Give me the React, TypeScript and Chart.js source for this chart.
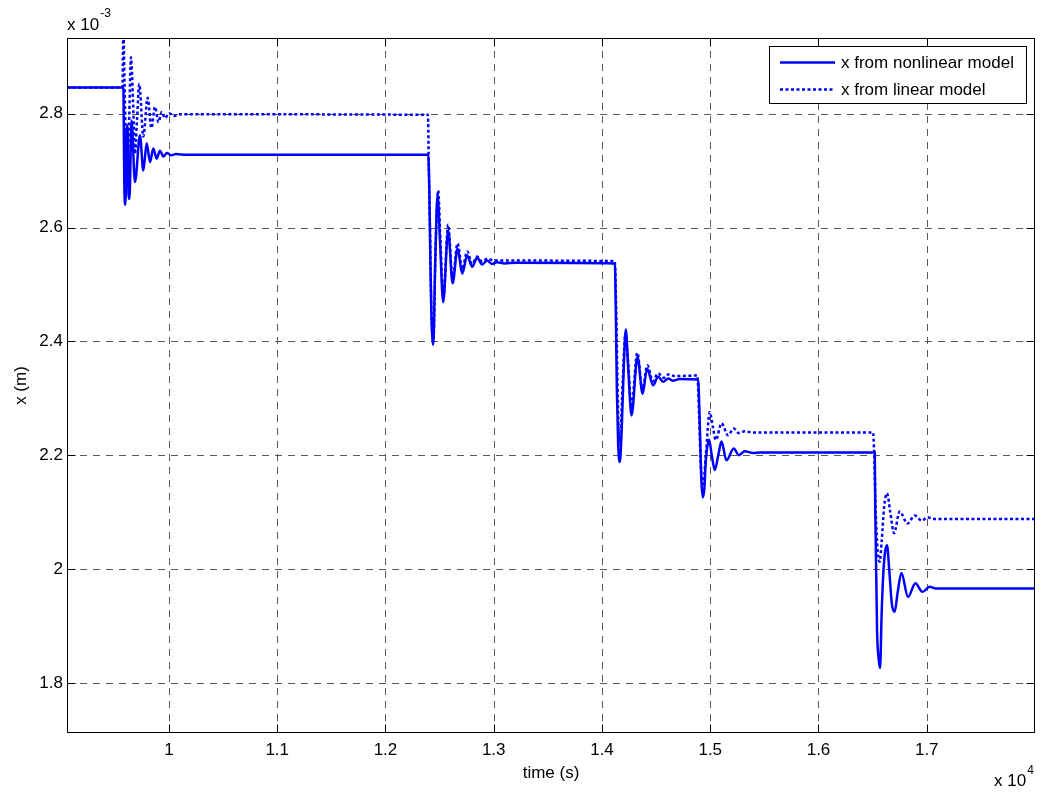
import React, { useEffect, useRef } from "react";
import { Chart, registerables } from "chart.js";

Chart.register(...registerables);

// ---- axis ranges and ticks (time in s, x in units of 1e-3 m) ----
const X_MIN = 9058;
const X_MAX = 18000;
const Y_MIN = 1.712;
const Y_MAX = 2.933;
const X_TICKS = [10000, 11000, 12000, 13000, 14000, 15000, 16000, 17000];
const X_TICK_LABELS = ["1", "1.1", "1.2", "1.3", "1.4", "1.5", "1.6", "1.7"];
const Y_TICKS = [1.8, 2.0, 2.2, 2.4, 2.6, 2.8];
const Y_TICK_LABELS = ["1.8", "2", "2.2", "2.4", "2.6", "2.8"];

const SERIES_LABELS = ["x from nonlinear model", "x from linear model"];

// ---- nonlinear model (solid) ----
const nonlinearTime = [
  9058, 9578, 9589, 9598, 9608, 9617, 9626, 9635, 9654, 9686, 9732, 9763, 9794, 9825, 9855, 9886, 9917, 9947, 9982, 10019, 10065, 10157,
  12395, 12404, 12415, 12424, 12441, 12461, 12481, 12503, 12533, 12579, 12620, 12666, 12709, 12755, 12801, 12847, 12893, 12939, 12983, 13029, 13100, 13200,
  14119, 14128, 14137, 14149, 14165, 14183, 14202, 14220, 14243, 14273, 14328, 14375, 14417, 14472, 14519, 14565, 14611, 14654, 14719,
  14888, 14904, 14917, 14931, 14945, 14959, 14989, 15014, 15042, 15074, 15104, 15150, 15217, 15264, 15319, 15396, 15458,
  16520, 16524, 16541, 16557, 16569, 16583, 16598, 16615, 16633, 16653, 16677, 16704, 16732, 16766, 16827, 16895, 16960, 17027, 17083, 18000,
];
const nonlinearX = [
  2.846, 2.846, 2.66, 2.64, 2.77, 2.78, 2.66, 2.65, 2.788, 2.68, 2.762, 2.7, 2.748, 2.715, 2.739, 2.721, 2.735, 2.725, 2.731, 2.727, 2.729, 2.728,
  2.728, 2.674, 2.54, 2.45, 2.394, 2.55, 2.657, 2.58, 2.469, 2.595, 2.502, 2.563, 2.519, 2.551, 2.531, 2.547, 2.535, 2.542, 2.536, 2.539, 2.537, 2.538,
  2.537, 2.449, 2.32, 2.221, 2.188, 2.25, 2.36, 2.421, 2.35, 2.27, 2.373, 2.308, 2.352, 2.323, 2.338, 2.329, 2.335, 2.331, 2.334,
  2.333, 2.25, 2.16, 2.126, 2.14, 2.19, 2.227, 2.2, 2.174, 2.2, 2.224, 2.191, 2.212, 2.2, 2.207, 2.204, 2.205,
  2.205, 2.109, 1.893, 1.84, 1.826, 1.92, 1.99, 2.03, 2.042, 2.0, 1.94, 1.925, 1.96, 1.993, 1.951, 1.975, 1.96, 1.969, 1.966, 1.966,
];

// ---- linear model (dotted) ----
const linearTime = [
  9058, 9571, 9578, 9589, 9603, 9617, 9631, 9649, 9668, 9686, 9705, 9726, 9763, 9803, 9838, 9871, 9903, 9933, 9963, 10000, 10046, 10102,
  12392, 12401, 12411, 12424, 12443, 12461, 12487, 12507, 12535, 12579, 12620, 12666, 12709, 12755, 12801, 12847, 12893, 12939, 13010,
  14117, 14132, 14146, 14160, 14174, 14192, 14216, 14243, 14271, 14327, 14373, 14419, 14470, 14519, 14567, 14613, 14673,
  14880, 14899, 14913, 14936, 14959, 14996, 15024, 15051, 15104, 15165, 15217, 15264, 15319, 15384,
  16504, 16515, 16529, 16547, 16566, 16584, 16607, 16633, 16663, 16698, 16750, 16822, 16889, 16956, 17006, 17058, 18000,
];
const linearX = [
  2.846, 2.846, 2.95, 2.86, 2.74, 2.7, 2.78, 2.899, 2.82, 2.73, 2.79, 2.852, 2.76, 2.828, 2.775, 2.812, 2.785, 2.803, 2.792, 2.801, 2.796, 2.799,
  2.798, 2.7, 2.6, 2.45, 2.4, 2.55, 2.665, 2.58, 2.478, 2.605, 2.51, 2.572, 2.527, 2.558, 2.536, 2.549, 2.54, 2.545, 2.542,
  2.541, 2.45, 2.3, 2.22, 2.25, 2.33, 2.41, 2.36, 2.285, 2.38, 2.315, 2.358, 2.33, 2.344, 2.336, 2.342, 2.339,
  2.34, 2.26, 2.18, 2.15, 2.2, 2.276, 2.25, 2.227, 2.256, 2.235, 2.247, 2.239, 2.242, 2.24,
  2.24, 2.2, 2.1, 2.03, 2.013, 2.05, 2.11, 2.133, 2.1, 2.063, 2.101, 2.08, 2.094, 2.085, 2.091, 2.088, 2.088,
];

const FONT = "'Liberation Sans', Arial, Helvetica, sans-serif";
const BLUE = "#0000ff";
const DOT_DASH = [3, 2.5];

const matlabPlugin = {
  id: "matlabDecor",
  beforeDatasetsDraw(chart: any) {
    const { ctx, chartArea: a, scales } = chart;
    const x = scales.x;
    const y = scales.y;
    ctx.save();
    ctx.strokeStyle = "#5a5a5a";
    ctx.lineWidth = 1;
    ctx.setLineDash([7, 6]);
    ctx.beginPath();
    X_TICKS.forEach((v) => {
      const px = Math.round(x.getPixelForValue(v)) + 0.5;
      ctx.moveTo(px, a.top);
      ctx.lineTo(px, a.bottom);
    });
    Y_TICKS.forEach((v) => {
      const py = Math.round(y.getPixelForValue(v)) + 0.5;
      ctx.moveTo(a.left, py);
      ctx.lineTo(a.right, py);
    });
    ctx.stroke();
    ctx.restore();
  },
  afterDatasetsDraw(chart: any) {
    const { ctx, chartArea: a, scales } = chart;
    const x = scales.x;
    const y = scales.y;
    ctx.save();
    // box
    ctx.setLineDash([]);
    ctx.strokeStyle = "#000";
    ctx.lineWidth = 1;
    const L = Math.round(a.left) + 0.5;
    const R = Math.round(a.right) - 0.5;
    const T = Math.round(a.top) + 0.5;
    const B = Math.round(a.bottom) - 0.5;
    ctx.strokeRect(L, T, R - L, B - T);
    // inward tick marks
    const TL = 8;
    ctx.beginPath();
    X_TICKS.forEach((v) => {
      const px = Math.round(x.getPixelForValue(v)) + 0.5;
      ctx.moveTo(px, B);
      ctx.lineTo(px, B - TL);
      ctx.moveTo(px, T);
      ctx.lineTo(px, T + TL);
    });
    Y_TICKS.forEach((v) => {
      const py = Math.round(y.getPixelForValue(v)) + 0.5;
      ctx.moveTo(L, py);
      ctx.lineTo(L + TL, py);
      ctx.moveTo(R, py);
      ctx.lineTo(R - TL, py);
    });
    ctx.stroke();

    // legend
    const lgL = Math.round(a.right) - 266;
    const lgT = Math.round(a.top) + 8;
    const lgW = 257;
    const lgH = 57;
    ctx.fillStyle = "#fff";
    ctx.fillRect(lgL, lgT, lgW, lgH);
    ctx.strokeStyle = "#000";
    ctx.lineWidth = 1;
    ctx.strokeRect(lgL + 0.5, lgT + 0.5, lgW, lgH);
    const rows = [lgT + 16.5, lgT + 43.5];
    chart.data.datasets.forEach((ds: any, i: number) => {
      const ry = rows[i];
      ctx.save();
      ctx.strokeStyle = ds.borderColor;
      ctx.lineWidth = ds.borderWidth;
      ctx.setLineDash(ds.borderDash || []);
      ctx.beginPath();
      ctx.moveTo(lgL + 11, ry);
      ctx.lineTo(lgL + 66, ry);
      ctx.stroke();
      ctx.restore();
      ctx.fillStyle = "#000";
      ctx.font = `17px ${FONT}`;
      ctx.textAlign = "left";
      ctx.textBaseline = "middle";
      ctx.fillText(ds.label, lgL + 72, ry + 0.5);
    });

    // axis titles
    ctx.fillStyle = "#000";
    ctx.font = `17px ${FONT}`;
    ctx.textAlign = "center";
    ctx.textBaseline = "middle";
    ctx.fillText("time (s)", (a.left + a.right) / 2, 773);
    ctx.save();
    ctx.translate(21, (a.top + a.bottom) / 2);
    ctx.rotate(-Math.PI / 2);
    ctx.fillText("x (m)", 0, 0);
    ctx.restore();

    // exponent labels
    ctx.textAlign = "left";
    ctx.textBaseline = "alphabetic";
    ctx.font = `17px ${FONT}`;
    ctx.fillText("x 10", a.left, 29.5);
    const w1 = ctx.measureText("x 10").width;
    ctx.font = `12px ${FONT}`;
    ctx.fillText("-3", a.left + w1 + 1, 17);

    ctx.font = `17px ${FONT}`;
    ctx.fillText("x 10", 994, 786);
    const w2 = ctx.measureText("x 10").width;
    ctx.font = `12px ${FONT}`;
    ctx.fillText("4", 994 + w2 + 1, 774);
    ctx.restore();
  },
};

export default function App() {
  const ref = useRef<HTMLCanvasElement | null>(null);

  useEffect(() => {
    const canvas = ref.current;
    if (!canvas) return;
    const chart = new Chart(canvas, {
      type: "line",
      data: {
        datasets: [
          {
            label: SERIES_LABELS[0],
            data: nonlinearTime.map((t, i) => ({ x: t, y: nonlinearX[i] })),
            borderColor: BLUE,
            borderWidth: 2.5,
            pointRadius: 0,
            cubicInterpolationMode: "monotone",
            fill: false,
            order: 1,
          },
          {
            label: SERIES_LABELS[1],
            data: linearTime.map((t, i) => ({ x: t, y: linearX[i] })),
            borderColor: BLUE,
            borderWidth: 2.5,
            borderDash: DOT_DASH,
            pointRadius: 0,
            cubicInterpolationMode: "monotone",
            fill: false,
            order: 0,
          },
        ],
      },
      options: {
        responsive: false,
        animation: false,
        devicePixelRatio: 1,
        events: [],
        layout: { padding: { left: 0, top: 38, right: 7, bottom: 0 } },
        plugins: { legend: { display: false }, tooltip: { enabled: false } },
        scales: {
          x: {
            type: "linear",
            min: X_MIN,
            max: X_MAX,
            grid: { display: false, drawTicks: false },
            border: { display: false },
            afterBuildTicks: (s: any) => {
              s.ticks = X_TICKS.map((v) => ({ value: v }));
            },
            afterFit: (s: any) => {
              s.height = 63;
            },
            ticks: {
              autoSkip: false,
              maxRotation: 0,
              minRotation: 0,
              padding: 7,
              color: "#000",
              font: { family: FONT, size: 17 },
              callback: (v: any) => X_TICK_LABELS[X_TICKS.indexOf(Number(v))] ?? "",
            },
          },
          y: {
            type: "linear",
            min: Y_MIN,
            max: Y_MAX,
            grid: { display: false, drawTicks: false },
            border: { display: false },
            afterBuildTicks: (s: any) => {
              s.ticks = Y_TICKS.map((v) => ({ value: v }));
            },
            afterFit: (s: any) => {
              s.width = 67;
            },
            ticks: {
              autoSkip: false,
              padding: 4,
              color: "#000",
              font: { family: FONT, size: 17 },
              callback: (v: any) => {
                const idx = Y_TICKS.findIndex((t) => Math.abs(t - Number(v)) < 1e-6);
                return idx >= 0 ? Y_TICK_LABELS[idx] : "";
              },
            },
          },
        },
      },
      plugins: [matlabPlugin],
    } as any);
    return () => chart.destroy();
  }, []);

  return (
    <div style={{ position: "fixed", left: 0, top: 0, width: 1042, height: 796, background: "#fff" }}>
      <canvas ref={ref} width={1042} height={796} style={{ display: "block" }} />
    </div>
  );
}
